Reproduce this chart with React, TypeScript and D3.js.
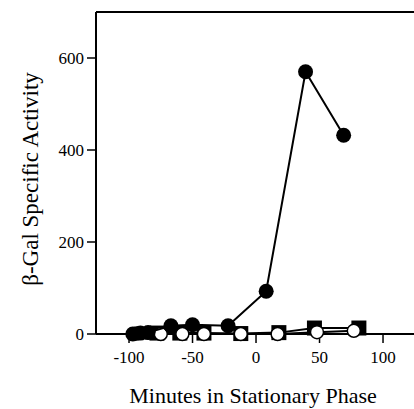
import React from "react";
import * as d3 from "d3";

const filledX = [-97, -91, -85, -67, -50, -22, 8, 39, 69];
const filledY = [0, 2, 3, 18, 20, 18, 93, 570, 432];

const squareX = [-78, -60, -41, -12, 18, 46, 81];
const squareY = [2, 2, 2, 1, 3, 13, 13];

const openX = [-94, -75, -58, -41, -12, 17, 48, 77];
const openY = [1, 0, 0, 0, 0, 0, 4, 7];

const xTicks = [-100, -50, 0, 50, 100];
const yTicks = [0, 200, 400, 600];

const W = 414;
const H = 409;

export default function App() {
  const x = d3.scaleLinear().domain([-126, 135]).range([96, 96 + 261 * 1.27]);
  const y = d3.scaleLinear().domain([0, 700]).range([334, 12]);
  const font = "'Liberation Serif', 'DejaVu Serif', 'Times New Roman', serif";

  const line = d3
    .line<[number, number]>()
    .x((d) => x(d[0]))
    .y((d) => y(d[1]));

  const filled = filledX.map((v, i) => [v, filledY[i]] as [number, number]);
  const squares = squareX.map((v, i) => [v, squareY[i]] as [number, number]);
  const opens = openX.map((v, i) => [v, openY[i]] as [number, number]);

  const x0 = x.range()[0];
  const y0 = y.range()[0];
  const yTop = y.range()[1];

  return (
    <svg
      width={W}
      height={H}
      style={{ position: "absolute", left: 0, top: 0, background: "#fff" }}
      fontFamily={font}
    >
      <rect x={0} y={0} width={W} height={H} fill="#fff" />
      {/* frame */}
      <line x1={x0} y1={yTop} x2={x0} y2={y0} stroke="#000" strokeWidth={2} />
      <line x1={x0} y1={yTop} x2={W + 10} y2={yTop} stroke="#000" strokeWidth={2} />
      <line x1={x0} y1={y0} x2={W + 10} y2={y0} stroke="#000" strokeWidth={2} />

      {/* y ticks */}
      {yTicks.map((t) => (
        <g key={"y" + t}>
          <line x1={x0 - 9} x2={x0} y1={y(t)} y2={y(t)} stroke="#000" strokeWidth={1.5} />
          <text x={x0 - 12} y={y(t)} dy="0.35em" textAnchor="end" fontSize={17}>
            {t}
          </text>
        </g>
      ))}
      {/* x ticks */}
      {xTicks.map((t) => (
        <g key={"x" + t}>
          <line x1={x(t)} x2={x(t)} y1={y0} y2={y0 + 9} stroke="#000" strokeWidth={1.5} />
          <text x={x(t)} y={363} textAnchor="middle" fontSize={17}>
            {t}
          </text>
        </g>
      ))}

      <text x={253} y={403} textAnchor="middle" fontSize={22}>
        Minutes in Stationary Phase
      </text>
      <text
        transform={`translate(38,179) rotate(-90)`}
        textAnchor="middle"
        fontSize={23}
      >
        β-Gal Specific Activity
      </text>

      {/* squares series */}
      <path d={line(squares) || ""} fill="none" stroke="#000" strokeWidth={2} />
      {squares.map((d, i) => (
        <rect
          key={"s" + i}
          x={x(d[0]) - 7.5}
          y={y(d[1]) - 7.5}
          width={15}
          height={15}
          fill="#000"
        />
      ))}

      {/* open circles series */}
      <path d={line(opens) || ""} fill="none" stroke="#000" strokeWidth={2} />
      {opens.map((d, i) => (
        <circle
          key={"o" + i}
          cx={x(d[0])}
          cy={y(d[1])}
          r={6.5}
          fill="#fff"
          stroke="#000"
          strokeWidth={1.5}
        />
      ))}

      {/* filled circles series */}
      <path d={line(filled) || ""} fill="none" stroke="#000" strokeWidth={2} />
      {filled.map((d, i) => (
        <circle key={"f" + i} cx={x(d[0])} cy={y(d[1])} r={7.5} fill="#000" />
      ))}
    </svg>
  );
}
